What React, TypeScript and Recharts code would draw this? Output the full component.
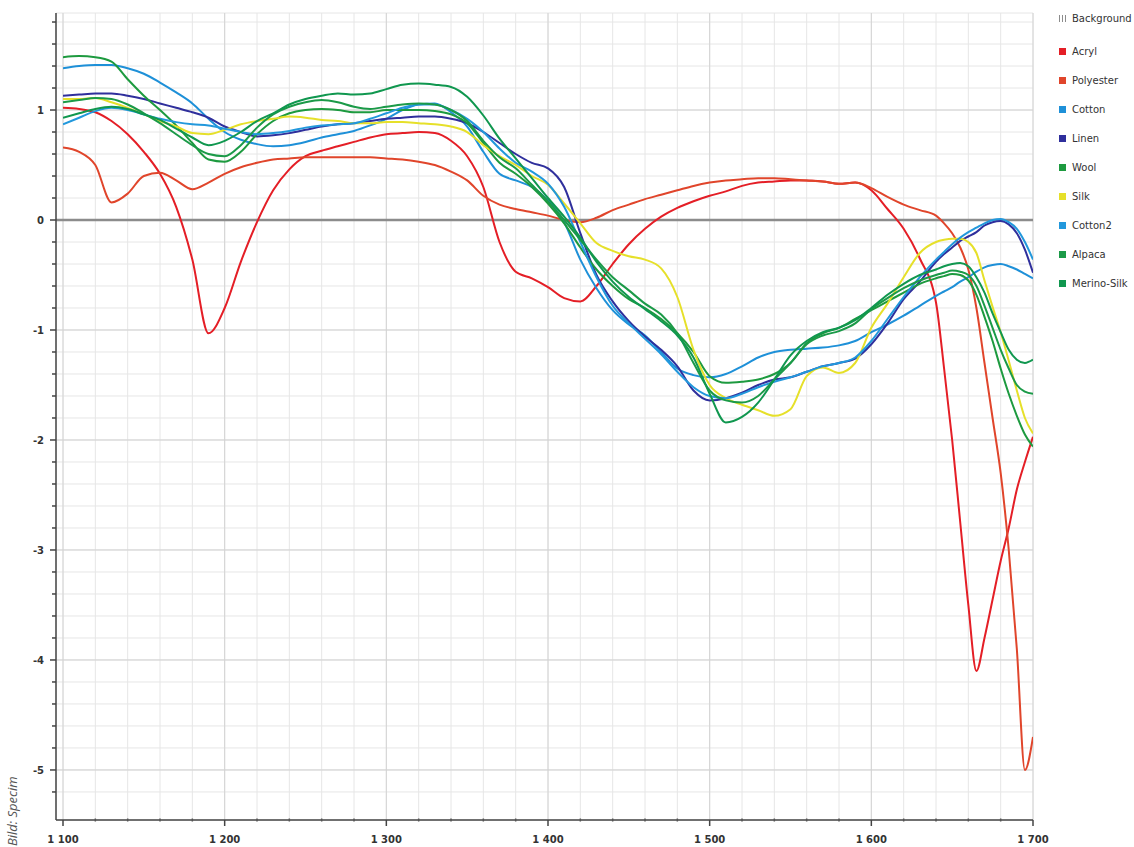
import { LineChart, Line, XAxis, YAxis, CartesianGrid, ReferenceLine } from "recharts";

// wavelength grid (nm): 10 nm steps, 5 nm at the long end
const wavelengths = [
  1100, 1110, 1120, 1130, 1140, 1150, 1160, 1170, 1180, 1190,
  1200, 1210, 1220, 1230, 1240, 1250, 1260, 1270, 1280, 1290,
  1300, 1310, 1320, 1330, 1340, 1350, 1360, 1370, 1380, 1390,
  1400, 1410, 1420, 1430, 1440, 1450, 1460, 1470, 1480, 1490,
  1500, 1510, 1520, 1530, 1540, 1550, 1560, 1570, 1580, 1590,
  1600, 1610, 1620, 1630, 1640,
  1645, 1650, 1655, 1660, 1665, 1670, 1675, 1680, 1685, 1690, 1695, 1700,
];

const acryl = [
  1.02, 1.01, 0.98, 0.9, 0.78, 0.62, 0.42, 0.12, -0.36, -1.03,
  -0.8, -0.38, -0.02, 0.27, 0.46, 0.58, 0.63, 0.67, 0.71, 0.75,
  0.78, 0.79, 0.8, 0.79, 0.72, 0.58, 0.3, -0.2, -0.47, -0.53,
  -0.61, -0.71, -0.74, -0.6, -0.4, -0.22, -0.08, 0.03, 0.11, 0.17,
  0.22, 0.26, 0.31, 0.34, 0.35, 0.36, 0.36, 0.35, 0.33, 0.34,
  0.27, 0.1, -0.08, -0.35, -0.75,
  -1.35, -2.0, -2.75, -3.5, -4.1, -3.8, -3.45, -3.1, -2.8, -2.45, -2.2, -1.97,
];

const polyester = [
  0.66, 0.62, 0.5, 0.16, 0.24, 0.4, 0.43, 0.36, 0.28, 0.34,
  0.42, 0.48, 0.52, 0.55, 0.56, 0.57, 0.57, 0.57, 0.57, 0.57,
  0.56, 0.55, 0.53, 0.5, 0.44, 0.36, 0.22, 0.14, 0.1, 0.07,
  0.04, 0.0, -0.02, 0.02, 0.09, 0.14, 0.19, 0.23, 0.27, 0.31,
  0.34, 0.36, 0.37, 0.38, 0.38, 0.37, 0.36, 0.35, 0.33, 0.34,
  0.29, 0.21, 0.14, 0.09, 0.04,
  -0.03, -0.12, -0.25, -0.45, -0.8, -1.3, -1.8, -2.3, -3.0, -3.9, -5.0, -4.7,
];

const cotton = [
  1.38, 1.4, 1.41, 1.41, 1.38, 1.33, 1.25, 1.16, 1.06, 0.92,
  0.8, 0.73, 0.69, 0.67, 0.68, 0.71, 0.75, 0.78, 0.81, 0.86,
  0.92, 1.0, 1.05, 1.06, 0.98, 0.85, 0.62, 0.42, 0.36, 0.3,
  0.18, -0.02, -0.36, -0.62, -0.82, -0.95, -1.05, -1.2, -1.35, -1.41,
  -1.43, -1.4, -1.33, -1.25, -1.2, -1.18, -1.17, -1.16, -1.14, -1.1,
  -1.02, -0.95, -0.87, -0.78, -0.69,
  -0.65, -0.61, -0.56, -0.52, -0.47, -0.43, -0.41, -0.4, -0.42, -0.45, -0.49, -0.53,
];

const linen = [
  1.13, 1.14, 1.15, 1.15, 1.13, 1.1, 1.06, 1.02, 0.98, 0.93,
  0.85, 0.8, 0.76, 0.77, 0.79, 0.82, 0.85, 0.87, 0.88, 0.9,
  0.92, 0.93, 0.94, 0.94, 0.92, 0.88, 0.8, 0.7, 0.6, 0.52,
  0.47, 0.3, -0.12, -0.5, -0.74, -0.92, -1.06, -1.18, -1.33, -1.55,
  -1.64, -1.62, -1.57, -1.5, -1.45, -1.43, -1.38, -1.33, -1.3, -1.26,
  -1.13, -0.94, -0.72, -0.56, -0.38,
  -0.31, -0.25, -0.19, -0.15, -0.11, -0.05, -0.02, -0.01, -0.04, -0.12, -0.27, -0.48,
];

const wool = [
  1.48, 1.49, 1.48, 1.44, 1.28, 1.13, 1.0, 0.86, 0.7, 0.55,
  0.53, 0.62, 0.78, 0.9, 0.97, 1.0, 1.01, 1.0, 0.98, 0.98,
  1.0, 1.0, 1.0, 0.99, 0.96, 0.88, 0.7, 0.52, 0.42, 0.3,
  0.15, -0.03, -0.25, -0.45, -0.6, -0.72, -0.8, -0.9, -1.03, -1.2,
  -1.42, -1.48, -1.47, -1.45, -1.4, -1.3, -1.12, -1.03, -0.98, -0.9,
  -0.82, -0.74, -0.66, -0.58, -0.53,
  -0.51, -0.49, -0.5, -0.55, -0.68, -0.88, -1.1, -1.35, -1.58, -1.78, -1.95, -2.06,
];

const silk = [
  1.1, 1.1, 1.11, 1.07, 1.02, 0.96, 0.9, 0.85, 0.79, 0.78,
  0.82, 0.87, 0.9, 0.92, 0.94, 0.93, 0.91, 0.9, 0.88, 0.88,
  0.89, 0.89, 0.88, 0.87, 0.85, 0.8, 0.68, 0.58, 0.5, 0.4,
  0.32, 0.15, -0.03, -0.21, -0.28, -0.33, -0.36, -0.44, -0.7, -1.18,
  -1.5, -1.62, -1.68, -1.73, -1.78, -1.72, -1.42, -1.34, -1.39, -1.3,
  -0.98, -0.76, -0.52, -0.3, -0.2,
  -0.18, -0.17, -0.17, -0.2, -0.3, -0.55, -0.79, -1.02, -1.28, -1.55, -1.8, -1.94,
];

const cotton2 = [
  0.87, 0.93, 0.99, 1.02, 1.0, 0.96, 0.92, 0.89, 0.87, 0.86,
  0.83, 0.8, 0.78, 0.79, 0.81, 0.84, 0.86, 0.87, 0.88, 0.92,
  0.97, 1.02, 1.05, 1.05, 1.0, 0.92, 0.8, 0.65, 0.52, 0.44,
  0.33, 0.12, -0.2, -0.52, -0.78, -0.94, -1.08, -1.22, -1.38, -1.52,
  -1.6, -1.62, -1.58, -1.52, -1.47, -1.43, -1.38, -1.33, -1.3, -1.25,
  -1.1, -0.9, -0.7, -0.52, -0.36,
  -0.29, -0.22, -0.16, -0.11, -0.07, -0.03, 0.0, 0.01, -0.02, -0.08, -0.2, -0.36,
];

const alpaca = [
  1.07, 1.09, 1.11, 1.1, 1.05, 0.97, 0.88, 0.78, 0.68, 0.6,
  0.58, 0.68, 0.84, 0.96, 1.03, 1.07, 1.09, 1.07, 1.03, 1.01,
  1.03, 1.05, 1.06, 1.05, 1.0, 0.9, 0.72, 0.57, 0.47, 0.32,
  0.17, 0.0, -0.18, -0.36, -0.52, -0.64, -0.76, -0.86, -1.03, -1.3,
  -1.55, -1.64, -1.66, -1.6, -1.45, -1.3, -1.13, -1.05, -1.01, -0.94,
  -0.81, -0.71, -0.62, -0.55, -0.5,
  -0.48, -0.46, -0.47, -0.5, -0.6, -0.78, -0.98, -1.18, -1.35, -1.5, -1.56, -1.58,
];

const merinoSilk = [
  0.93, 0.97, 1.01, 1.03, 1.01, 0.96, 0.91, 0.83, 0.75, 0.68,
  0.72, 0.8, 0.9, 0.97, 1.05, 1.1, 1.13, 1.15, 1.14, 1.15,
  1.19, 1.23, 1.24, 1.23, 1.21, 1.12, 0.95, 0.74, 0.56, 0.38,
  0.2, 0.03, -0.16, -0.38, -0.56, -0.7, -0.81, -0.92, -1.05, -1.25,
  -1.58, -1.84, -1.79, -1.66, -1.45, -1.23, -1.1, -1.02, -0.98, -0.91,
  -0.8, -0.68, -0.58, -0.5, -0.45,
  -0.42, -0.4, -0.39, -0.42, -0.52, -0.66, -0.85, -1.02, -1.18, -1.27, -1.3, -1.27,
];

const SERIES = [
  { key: "acryl", name: "Acryl", color: "#e41e26", values: acryl },
  { key: "polyester", name: "Polyester", color: "#e0452b", values: polyester },
  { key: "cotton", name: "Cotton", color: "#1e90d8", values: cotton },
  { key: "linen", name: "Linen", color: "#2f2f9c", values: linen },
  { key: "wool", name: "Wool", color: "#1d9a3f", values: wool },
  { key: "silk", name: "Silk", color: "#e6e02a", values: silk },
  { key: "cotton2", name: "Cotton2", color: "#2298dc", values: cotton2 },
  { key: "alpaca", name: "Alpaca", color: "#1b9a48", values: alpaca },
  { key: "merinoSilk", name: "Merino-Silk", color: "#10974f", values: merinoSilk },
];

const xTicks = Array.from({ length: 31 }, (_, i) => 1100 + i * 20);
const xMajors = [1100, 1200, 1300, 1400, 1500, 1600, 1700];
const yTicks = Array.from({ length: 36 }, (_, i) => Math.round((-5.2 + i * 0.2) * 10) / 10);
const yMajors = [-5, -4, -3, -2, -1, 1];

const data = wavelengths.map((wl, i) => {
  const row: Record<string, number> = { wl };
  SERIES.forEach((s) => {
    row[s.key] = s.values[i];
  });
  return row;
});

const TICK_FONT = { fontFamily: "DejaVu Sans", fontSize: 10, fontWeight: 700, fill: "#333" };

function formatWl(v: number) {
  return `${Math.floor(v / 1000)} ${String(v % 1000).padStart(3, "0")}`;
}

function XTick(props: any) {
  const { x, y, payload } = props;
  const major = payload.value % 100 === 0;
  return (
    <g>
      {major ? (
        <line x1={x} x2={x} y1={y} y2={y + 6} stroke="#444" strokeWidth={1.5} />
      ) : (
        <line x1={x} x2={x} y1={y - 1.5} y2={y + 1.5} stroke="#555" strokeWidth={1.5} />
      )}
      {major && (
        <text x={x} y={y + 23} textAnchor="middle" {...TICK_FONT}>
          {formatWl(payload.value)}
        </text>
      )}
    </g>
  );
}

function YTick(props: any) {
  const { x, y, payload } = props;
  const v = payload.value;
  const major = Math.abs(v - Math.round(v)) < 1e-6;
  return (
    <g>
      <line x1={x - (major ? 6 : 4)} x2={x} y1={y} y2={y} stroke="#444" strokeWidth={1.5} />
      {major && (
        <text x={x - 12} y={y + 4} textAnchor="end" {...TICK_FONT}>
          {Math.round(v)}
        </text>
      )}
    </g>
  );
}

function SpectrumLegend() {
  const items = [{ name: "Background", color: "#9a9a9a" }, ...SERIES];
  return (
    <div style={{ position: "absolute", left: 1059, top: 0, fontFamily: "DejaVu Sans", fontSize: 10, color: "#333" }}>
      {items.map((it, i) => {
        const cy = i === 0 ? 18 : 51 + (i - 1) * 29.1;
        return (
          <div key={it.name} style={{ position: "absolute", top: cy - 7, left: 0, display: "flex", alignItems: "center", whiteSpace: "nowrap", height: 14 }}>
            {i === 0 ? (
              <span style={{ width: 7, height: 7, marginRight: 6, display: "inline-block", background: "repeating-linear-gradient(90deg, #8c8c8c 0 1px, #fff 1px 3px)" }} />
            ) : (
              <span style={{ width: 7, height: 7, marginRight: 6, display: "inline-block", background: it.color }} />
            )}
            {it.name}
          </div>
        );
      })}
    </div>
  );
}

export default function App() {
  return (
    <div style={{ position: "relative", width: 1134, height: 847, background: "#fff", overflow: "hidden" }}>
      <style>{`body { margin: 0; }`}</style>
      <LineChart width={1134} height={847} data={data} margin={{ top: 13, right: 101, bottom: 0, left: 10 }}>
        <CartesianGrid stroke="#e6e6e6" strokeWidth={1} />
        {xMajors.map((v) => (
          <ReferenceLine key={`vx-${v}`} x={v} stroke="#d4d4d4" strokeWidth={1} />
        ))}
        {yMajors.map((v) => (
          <ReferenceLine key={`hy-${v}`} y={v} stroke="#d2d2d2" strokeWidth={1} />
        ))}
        <ReferenceLine y={0} stroke="#8c8c8c" strokeWidth={2.5} />
        <XAxis
          dataKey="wl"
          type="number"
          domain={[1100, 1700]}
          ticks={xTicks}
          interval={0}
          padding={{ left: 7, right: 0 }}
          height={27}
          tickSize={0}
          tickMargin={0}
          tickLine={false}
          axisLine={{ stroke: "#444", strokeWidth: 1.5 }}
          tick={<XTick />}
          allowDataOverflow
        />
        <YAxis
          type="number"
          domain={[-5.364, 1.882]}
          ticks={yTicks}
          interval={0}
          padding={{ top: 0, bottom: 10 }}
          width={46}
          tickSize={0}
          tickMargin={0}
          tickLine={false}
          axisLine={{ stroke: "#444", strokeWidth: 1.5 }}
          tick={<YTick />}
          allowDataOverflow
        />
        {SERIES.map((s) => (
          <Line
            key={s.key}
            dataKey={s.key}
            name={s.name}
            type="monotone"
            stroke={s.color}
            strokeWidth={2}
            dot={false}
            isAnimationActive={false}
          />
        ))}
      </LineChart>
      <SpectrumLegend />
      <div
        style={{
          position: "absolute",
          left: 3,
          top: 846,
          transformOrigin: "left top",
          transform: "rotate(-90deg)",
          fontFamily: "Open Sans",
          fontStyle: "italic",
          fontSize: 13,
          lineHeight: "18px",
          color: "#555",
          whiteSpace: "nowrap",
        }}
      >
        Bild: Specim
      </div>
    </div>
  );
}
